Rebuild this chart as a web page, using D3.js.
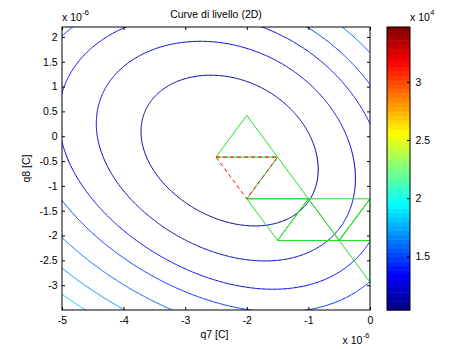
<!DOCTYPE html>
<html><head><meta charset="utf-8">
<script src="https://cdn.jsdelivr.net/npm/d3@7"></script>
<style>body{margin:0;background:#fff}svg{display:block;font-family:"Liberation Sans",Arial,sans-serif}</style>
</head><body><svg width="474" height="349"></svg>
<script>
var svg = d3.select("svg");

// axis ticks (q7, q8 in 1e-6 C, colorbar in 1e4)
var q7Ticks = [-5, -4, -3, -2, -1, 0];
var q8Ticks = [-3, -2.5, -2, -1.5, -1, -0.5, 0, 0.5, 1, 1.5, 2];
var cbTicks = [1.5, 2, 2.5, 3];
var cbRange = [1.04, 3.47];

// contour levels (x 1e4) and the surface shape
var contourValues = [1.10, 1.22, 1.34, 1.46, 1.58, 1.70, 1.82];
var fieldLevels = [1.9418, 4.1260, 6.4729, 8.7359, 11.440, 14.377, 17.389];
var fieldCenter = [-2.3, -0.28];
var fieldCoef = [0.47654, 0.90153, -0.14785, -0.037519, 0.053214, 0.020004, 0.0035443, 0.0077873];

// simplex vertices and steps
var vertexQ7 = [-2, -2.5, -1.5, -2, -1, -1.5, -0.5, 0, 0, 0.5];
var vertexQ8 = [0.42, -0.42, -0.42, -1.26, -1.26, -2.1, -2.1, -1.26, -2.94, -2.1];
var greenTriangles = [[0, 1, 2], [2, 3, 4], [3, 4, 5], [4, 5, 6], [4, 6, 7], [6, 7, 9], [6, 7, 8]];
var redTriangle = [1, 2, 3];

var x = d3.scaleLinear().domain([-5, 0]).range([62, 370]);
var y = d3.scaleLinear().domain([-3.5, 2.2]).range([310, 27]);
var cy = d3.scaleLinear().domain(cbRange).range([310, 27]);

function field(X, Y) {
  var u = X - fieldCenter[0], v = Y - fieldCenter[1], c = fieldCoef;
  return u*u + c[0]*u*v + c[1]*v*v + c[2]*u + c[3]*v + c[4]*u*u*u + c[5]*u*u*v + c[6]*u*v*v + c[7]*v*v*v;
}
function jet(t) {
  function cl(u) { return Math.max(0, Math.min(1, u)); }
  return d3.rgb(255*cl(Math.min(4*t-1.5, -4*t+4.5)), 255*cl(Math.min(4*t-0.5, -4*t+3.5)), 255*cl(Math.min(4*t+0.5, -4*t+2.5)));
}
var colorT = d3.scaleLinear().domain(cbRange).range([0, 1]);
var toValue = d3.scaleLinear().domain(fieldLevels).range(contourValues);

svg.append("clipPath").attr("id", "clip").append("rect")
   .attr("x", 62).attr("y", 27).attr("width", 308).attr("height", 283);

// contours
var step = 0.02, gx0 = -5.4, gy0 = 2.6, nx = 291, ny = 326, vals = [];
for (var j = 0; j < ny; j++) for (var i = 0; i < nx; i++) vals.push(toValue(field(gx0 + i*step, gy0 - j*step)));
var cont = d3.contours().size([nx, ny]).thresholds(contourValues)(vals);
var plot = svg.append("g").attr("clip-path", "url(#clip)");
cont.forEach(function(c) {
  var dstr = c.coordinates.map(function(poly) {
    return poly.map(function(ring) {
      return "M" + ring.map(function(q) { return x(gx0 + (q[0]-0.5)*step).toFixed(2) + "," + y(gy0 - (q[1]-0.5)*step).toFixed(2); }).join("L") + "Z";
    }).join("");
  }).join("");
  plot.append("path").attr("d", dstr).attr("fill", "none")
      .attr("stroke", jet(colorT(c.value))).attr("stroke-width", 1);
});

// simplex steps
var tri = d3.line().x(function(i) { return x(vertexQ7[i]); }).y(function(i) { return y(vertexQ8[i]); });
plot.selectAll(".green").data(greenTriangles).enter().append("path")
    .attr("d", function(t) { return tri(t) + "Z"; })
    .attr("fill", "none").attr("stroke", "#22dd22").attr("stroke-width", 1);
plot.append("path").attr("d", tri(redTriangle) + "Z")
    .attr("fill", "none").attr("stroke", "#ff0000").attr("stroke-width", 1).attr("stroke-dasharray", "4,3");

// axes
function plain(d) { return String(d); }
svg.append("g").attr("transform", "translate(0,310)")
   .call(d3.axisBottom(x).tickValues(q7Ticks).tickFormat(plain).tickSizeInner(-3).tickSizeOuter(0).tickPadding(6.5));
svg.append("g").attr("transform", "translate(0,27)")
   .call(d3.axisTop(x).tickValues(q7Ticks).tickFormat("").tickSizeInner(-3).tickSizeOuter(0));
svg.append("g").attr("transform", "translate(62,0)")
   .call(d3.axisLeft(y).tickValues(q8Ticks).tickFormat(plain).tickSizeInner(-3).tickSizeOuter(0).tickPadding(4.5));
svg.append("g").attr("transform", "translate(370,0)")
   .call(d3.axisRight(y).tickValues(q8Ticks).tickFormat("").tickSizeInner(-3).tickSizeOuter(0));
svg.selectAll(".domain").remove();
svg.selectAll(".tick text").attr("font-size", 10.5).attr("font-family", "Liberation Sans, Arial, sans-serif").attr("fill", "#000");
svg.append("rect").attr("x", 62).attr("y", 27).attr("width", 308).attr("height", 283)
   .attr("fill", "none").attr("stroke", "#000").attr("stroke-width", 1);

// colorbar
var bw = (cbRange[1] - cbRange[0])/64;
var bands = d3.range(64).map(function(i) { return cbRange[0] + i*bw; });
svg.selectAll(".band").data(bands).enter().append("rect")
   .attr("x", 387).attr("width", 23)
   .attr("y", function(d) { return cy(d + bw); })
   .attr("height", function(d) { return cy(d) - cy(d + bw) + 0.5; })
   .attr("fill", function(d) { return jet(colorT(d + bw/2)); });
svg.append("g").attr("transform", "translate(410,0)")
   .call(d3.axisRight(cy).tickValues(cbTicks).tickFormat(plain).tickSizeInner(-3).tickSizeOuter(0).tickPadding(5.5))
   .call(function(g) {
     g.select(".domain").remove();
     g.selectAll("text").attr("font-size", 10.5).attr("font-family", "Liberation Sans, Arial, sans-serif").attr("fill", "#000");
   });
svg.append("rect").attr("x", 387).attr("y", 27).attr("width", 23).attr("height", 283)
   .attr("fill", "none").attr("stroke", "#000").attr("stroke-width", 1);

// texts
function expLabel(x0, yb, e) {
  var t = svg.append("text").attr("x", x0).attr("y", yb).attr("font-size", 10.5).text("x 10");
  svg.append("text").attr("x", x0 + t.node().getComputedTextLength() + 0.5).attr("y", yb - 6)
     .attr("font-size", 7.5).text(e);
}
expLabel(62, 20.5, "-6");
expLabel(342.5, 344, "-6");
expLabel(410, 20.5, "4");
svg.append("text").attr("x", 216).attr("y", 18).attr("text-anchor", "middle").attr("font-size", 10.5).text("Curve di livello (2D)");
svg.append("text").attr("x", 214.5).attr("y", 337.5).attr("text-anchor", "middle").attr("font-size", 10.5).text("q7 [C]");
svg.append("text").attr("transform", "translate(29.5,168.5) rotate(-90)").attr("text-anchor", "middle").attr("font-size", 10.5).text("q8 [C]");
</script></body></html>
